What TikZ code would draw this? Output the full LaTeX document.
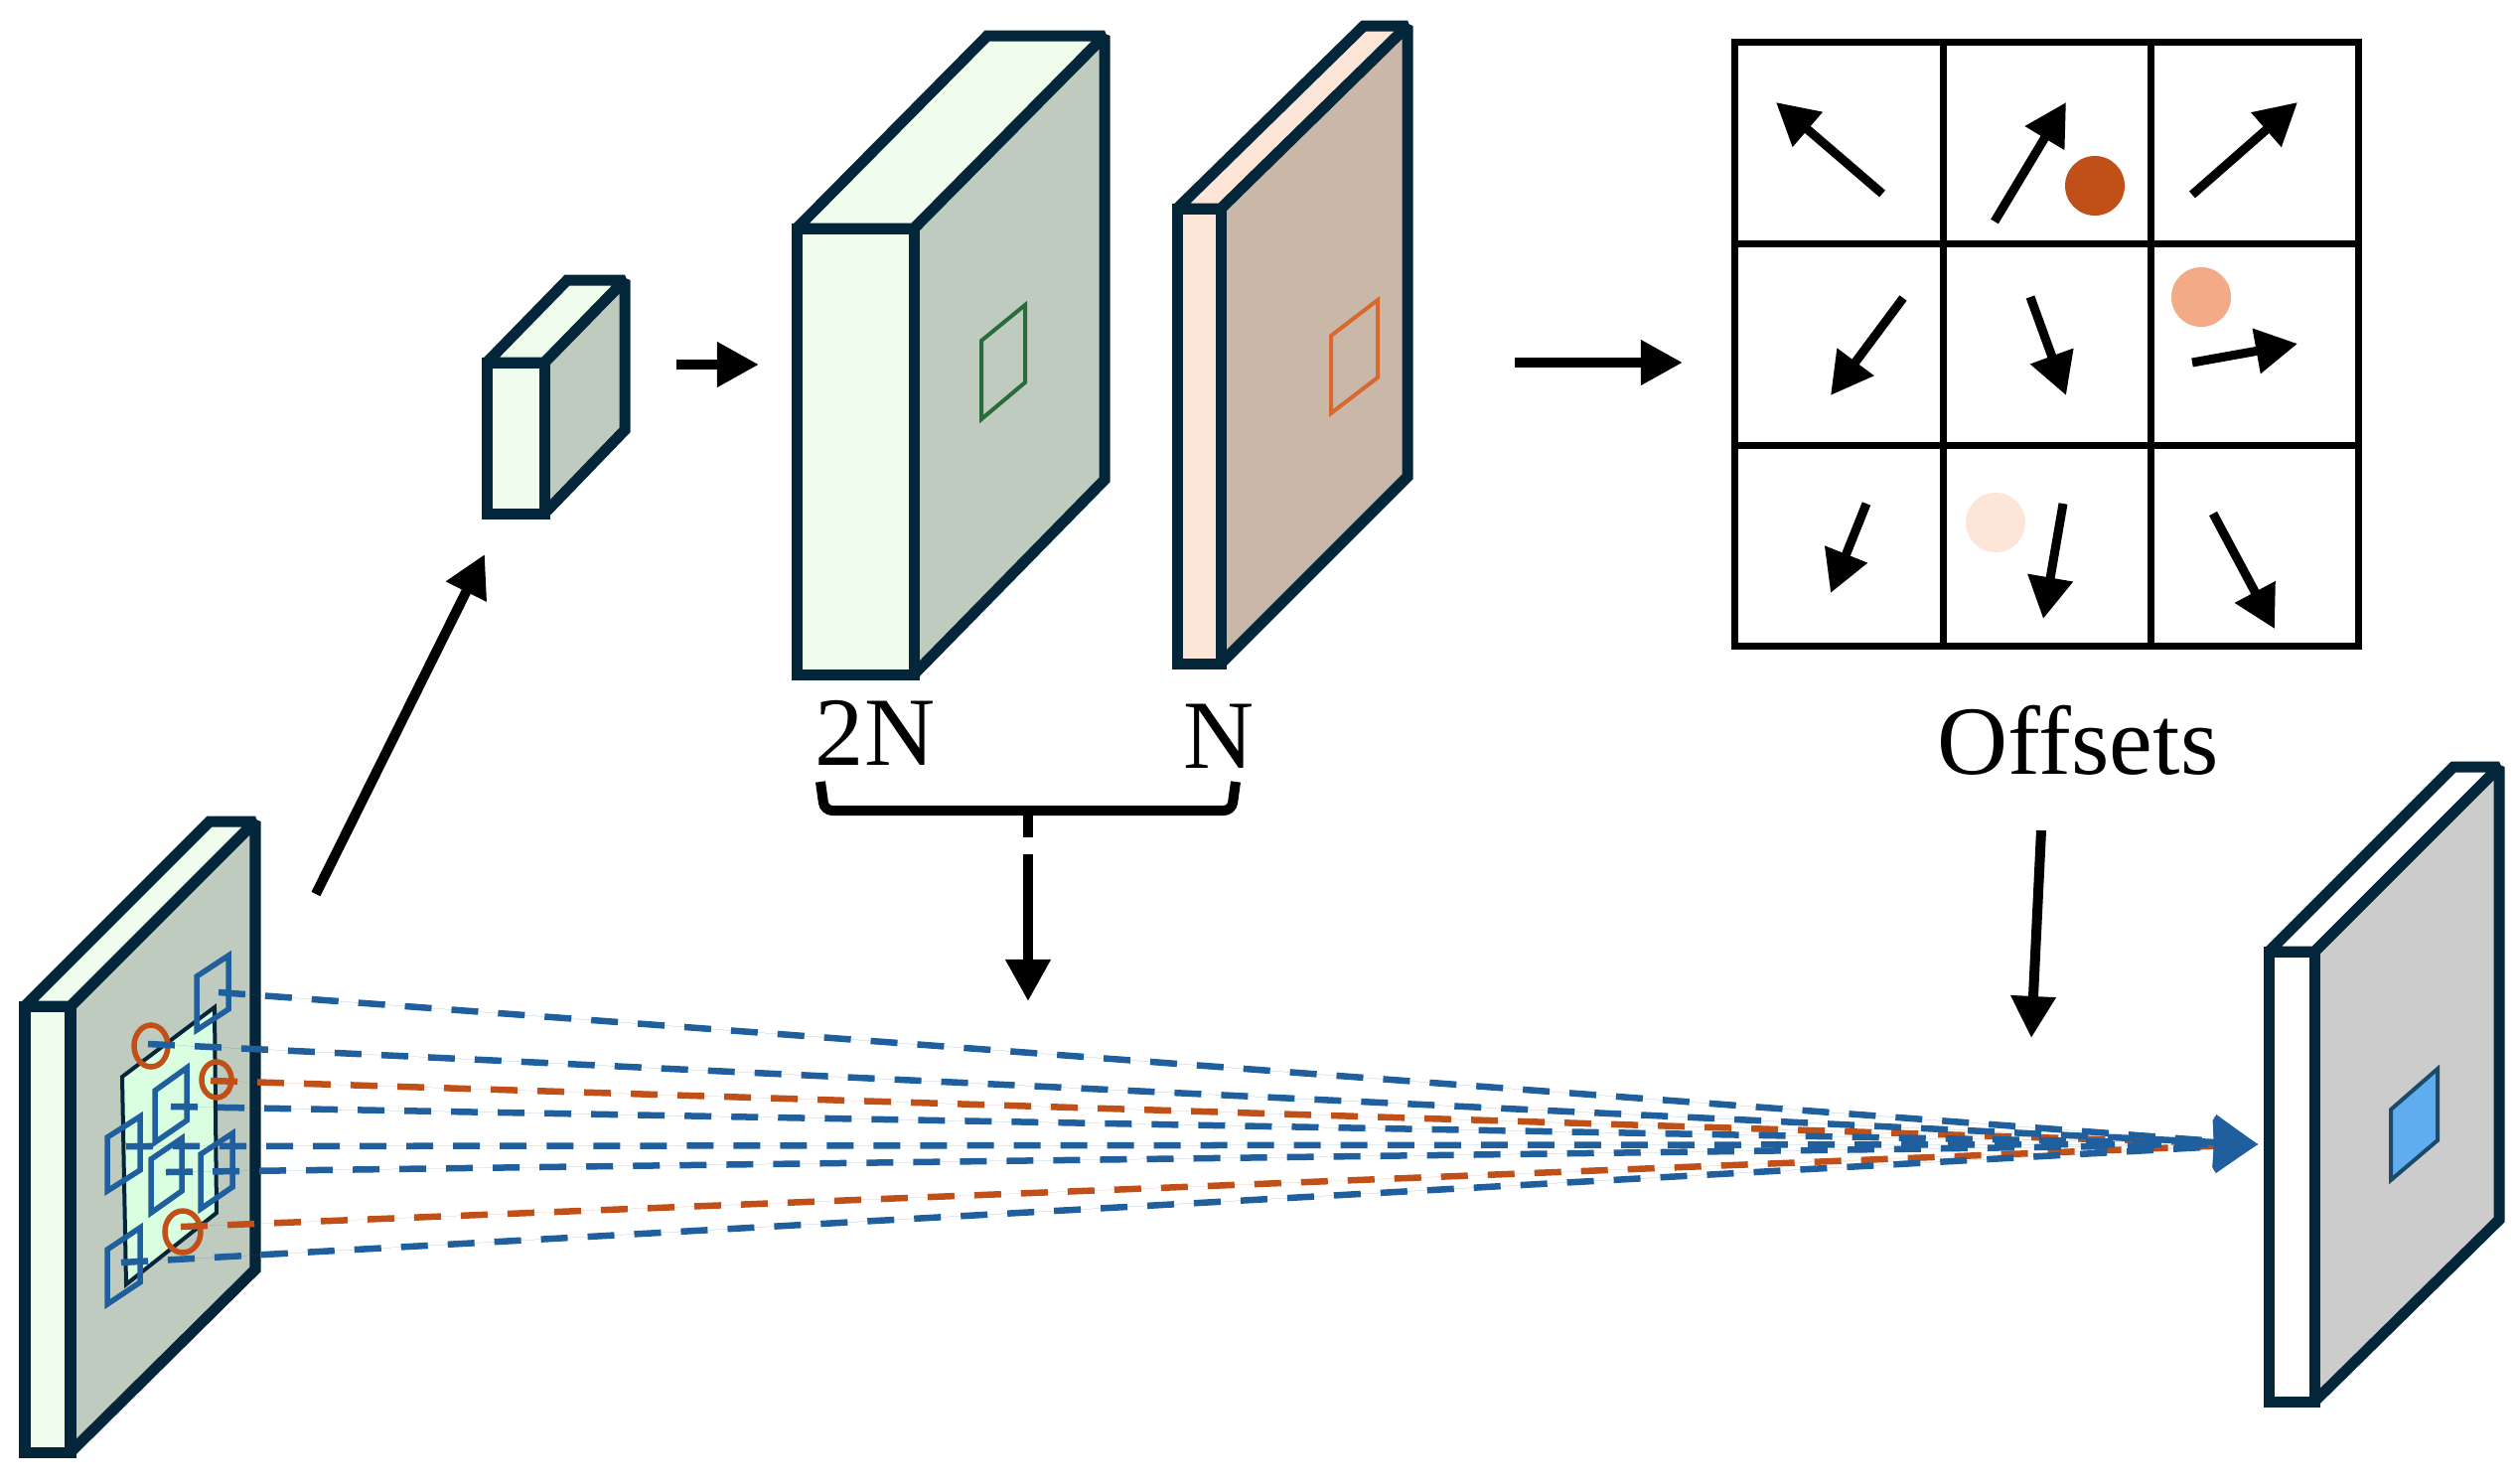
\documentclass[tikz,border=0pt]{standalone}
\usepackage{fontspec}
\setmainfont{Liberation Serif}
\usepackage{xcolor}
\usepackage{tikz}
\usetikzlibrary{arrows.meta}

\definecolor{linedark}{HTML}{04263A}
\definecolor{greenfront}{HTML}{F0FDEC}
\definecolor{greenside}{HTML}{C0CBBF}
\definecolor{greenpatch}{HTML}{DAFFE0}
\definecolor{salmonfront}{HTML}{FDE5D8}
\definecolor{salmonmid}{HTML}{F2AB86}
\definecolor{salmonside}{HTML}{C9B7A8}
\definecolor{greyside}{HTML}{CCCCCC}
\definecolor{bluefill}{HTML}{5FACEF}
\definecolor{blueline}{HTML}{1F5F9E}
\definecolor{orangeline}{HTML}{C05018}
\definecolor{patchgreen}{HTML}{2A6B3C}
\definecolor{patchorange}{HTML}{D9682E}
\definecolor{patchblue}{HTML}{1B4A6B}

\tikzset{
	face/.style={draw=linedark,line width=0.11cm,line join=miter,miter limit=2},
	window/.style={line width=0.055cm},
	ring/.style={draw=orangeline,line width=0.055cm},
	sampleline/.style={line width=0.065cm,dash pattern=on 0.27cm off 0.2cm,-{Triangle[length=0.44cm,width=0.52cm]}},
	flow/.style={line width=0.1cm,-{Triangle[length=0.42cm,width=0.43cm]}},
	label/.style={font=\fontsize{28}{30}\selectfont,anchor=base,inner sep=0pt},
	dot/.style={circle,inner sep=0pt,minimum size=0.6cm}
}

\begin{document}
\begin{tikzpicture}[x=0.01cm,y=-0.01cm]
	\useasboundingbox (0,0) rectangle (2536,1493);
	
	% input slab
	\draw[face,fill=greenside] (71,1013) -- (257,827) -- (257,1278) -- (71,1462) -- cycle;
	\draw[face,fill=greenfront] (25,1013) -- (211,827) -- (257,827) -- (71,1013) -- cycle;
	\draw[face,fill=greenfront] (25,1013) rectangle (71,1462);
	\draw[draw=linedark,fill=greenpatch,line width=0.04cm] (123,1084) -- (216,1014) -- (218,1221) -- (127,1293) -- cycle;
	\draw[window,draw=blueline] (198,983) -- (230,962) -- (230,1016) -- (198,1037) -- cycle;
	\draw[window,draw=blueline] (156,1098) -- (188,1075) -- (188,1128) -- (156,1150) -- cycle;
	\draw[window,draw=blueline] (108,1145) -- (141,1124) -- (141,1178) -- (108,1199) -- cycle;
	\draw[window,draw=blueline] (152,1167) -- (183,1146) -- (183,1199) -- (152,1221) -- cycle;
	\draw[window,draw=blueline] (202,1162) -- (234,1141) -- (234,1195) -- (202,1217) -- cycle;
	\draw[window,draw=blueline] (108,1258) -- (141,1236) -- (141,1291) -- (108,1313) -- cycle;
	\draw[ring] (152,1053) ellipse (17 and 21);
	\draw[ring] (218,1087) ellipse (15 and 18);
	\draw[ring] (184,1240) ellipse (18 and 21);
	
	% small cube
	\draw[face,fill=greenside] (548,365) -- (629,282) -- (629,433) -- (548,517) -- cycle;
	\draw[face,fill=greenfront] (490,365) -- (571,282) -- (629,282) -- (548,365) -- cycle;
	\draw[face,fill=greenfront] (490,365) rectangle (548,517);
	
	% 2N block
	\draw[face,fill=greenside] (920,230) -- (1112,36) -- (1112,483) -- (920,679) -- cycle;
	\draw[face,fill=greenfront] (802,230) -- (994,36) -- (1112,36) -- (920,230) -- cycle;
	\draw[face,fill=greenfront] (802,230) rectangle (920,679);
	\draw[draw=patchgreen,line width=0.04cm] (988,343) -- (1032,307) -- (1032,385) -- (988,422) -- cycle;
	
	% N block
	\draw[face,fill=salmonside] (1229,210) -- (1417,26) -- (1417,480) -- (1229,668) -- cycle;
	\draw[face,fill=salmonfront] (1185,210) -- (1373,26) -- (1417,26) -- (1229,210) -- cycle;
	\draw[face,fill=salmonfront] (1185,210) rectangle (1229,668);
	\draw[draw=patchorange,line width=0.04cm] (1340,338) -- (1387,302) -- (1387,380) -- (1340,416) -- cycle;
	
	% output slab
	\draw[face,fill=greyside] (2330,958) -- (2516,772) -- (2516,1228) -- (2330,1411) -- cycle;
	\draw[face,fill=white] (2284,958) -- (2470,772) -- (2516,772) -- (2330,958) -- cycle;
	\draw[face,fill=white] (2284,958) rectangle (2330,1411);
	\draw[draw=patchblue,fill=bluefill,line width=0.04cm] (2407,1117) -- (2454,1076) -- (2454,1148) -- (2407,1188) -- cycle;
	
	% offset grid
	\foreach \gx in {1746,1956,2165,2374}
		\draw[line width=0.07cm,line cap=rect] (\gx,42) -- (\gx,650);
	\foreach \gy in {42,245,448,650}
		\draw[line width=0.07cm,line cap=rect] (1746,\gy) -- (2374,\gy);
	\foreach \i/\xa/\ya/\xb/\yb in {1/1895/195/1788/103,2/2008/223/2080/103,3/2207/196/2313/103,
		4/1916/300/1843/398,5/2044/299/2080/398,6/2207/365/2313/346,
		7/1879/507/1843/597,8/2077/507/2057/623,9/2228/517/2290/633}{
		\coordinate (from\i) at (\xa,\ya);
		\coordinate (to\i) at (\xb,\yb);
		\draw[line width=0.09cm,-{Triangle[length=0.42cm,width=0.44cm]}] (from\i) -- (to\i);
	}
	\node[dot,fill=orangeline] (dot1) at (2109,187) {};
	\node[dot,fill=salmonmid] (dot2) at (2216,299) {};
	\node[dot,fill=salmonfront] (dot3) at (2009,526) {};
	
	% labels
	\node[label] (twon) at (881,770) {2N};
	\node[label] (onen) at (1227,773) {N};
	\node[label] (offsets) at (2092,779) {Offsets};
	
	% flow arrows
	\coordinate (slabout) at (318,900);
	\coordinate (cubein) at (488,558);
	\coordinate (cubeout) at (681,367);
	\coordinate (blockin) at (764,367);
	\coordinate (blockout) at (1525,365);
	\coordinate (gridin) at (1694,365);
	\coordinate (textout) at (2055,836);
	\coordinate (sampleright) at (2045,1045);
	\coordinate (bracel) at (826,787);
	\coordinate (bracer) at (1244,787);
	\coordinate (bracemid) at (1035,816);
	\coordinate (stemend) at (1035,843);
	\coordinate (stemnext) at (1035,860);
	\coordinate (sampleleft) at (1035,1008);
	\draw[flow] (slabout) -- (cubein);
	\draw[flow] (cubeout) -- (blockin);
	\draw[flow] (blockout) -- (gridin);
	\draw[flow] (textout) -- (sampleright);
	\draw[flow] (stemnext) -- (sampleleft);
	\draw[line width=0.1cm,rounded corners=0.08cm] (bracel) -- (830,816) -- (1240,816) -- (bracer);
	\draw[line width=0.1cm] (bracemid) -- (stemend);
	
	% sampling lines
	\coordinate (tip) at (2273,1152);
	\foreach \i/\xa/\ya in {1/212/1088,2/182/1235}{
		\coordinate (ostart\i) at (\xa,\ya);
		\draw[sampleline,draw=orangeline,fill=orangeline] (ostart\i) -- (tip);
	}
	\foreach \i/\xa/\ya in {1/220/999,2/149/1051,3/172/1114,4/127/1154,5/167/1180,6/122/1271}{
		\coordinate (bstart\i) at (\xa,\ya);
		\draw[sampleline,draw=blueline,fill=blueline] (bstart\i) -- (tip);
	}
	
\end{tikzpicture}
\end{document}
